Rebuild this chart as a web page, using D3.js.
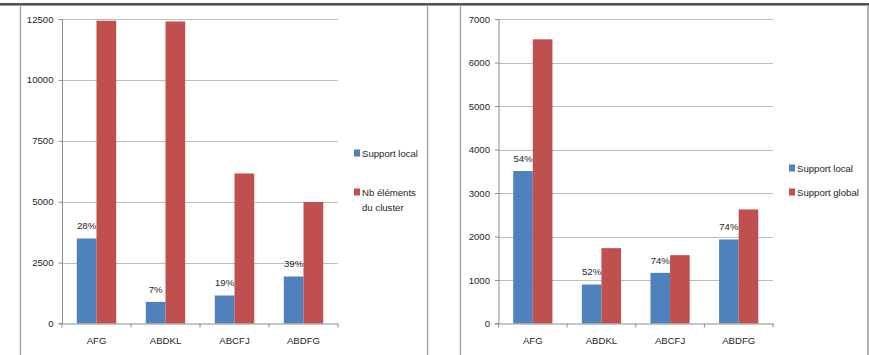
<!DOCTYPE html>
<html>
<head>
<meta charset="utf-8">
<script src="https://cdn.jsdelivr.net/npm/d3@7/dist/d3.min.js"></script>
<style>
  html, body { margin: 0; padding: 0; background: #fff; }
  svg { display: block; }
  text { font-family: "Liberation Sans", Arial, sans-serif; fill: #262626; }
</style>
</head>
<body>
<svg id="chart" width="869" height="355"></svg>
<script>
// Clusters shown on both charts
const categories = ["AFG", "ABDKL", "ABCFJ", "ABDFG"];

// Left chart: local support vs. number of elements in the cluster
const leftLocal = [3490, 887, 1150, 1930];
const leftClusterSize = [12430, 12400, 6160, 4990];
const leftPct = ["28%", "7%", "19%", "39%"];
const leftTicks = [0, 2500, 5000, 7500, 10000, 12500];
const leftLegend = [["Support local"], ["Nb éléments", "du cluster"]];

// Right chart: local support vs. global support
const rightLocal = [3505, 897, 1164, 1932];
const rightGlobal = [6533, 1732, 1571, 2622];
const rightPct = ["54%", "52%", "74%", "74%"];
const rightTicks = [0, 1000, 2000, 3000, 4000, 5000, 6000, 7000];
const rightLegend = [["Support local"], ["Support global"]];

const colors = ["#4F81BD", "#C0504D"];
const FS = 9.6;

const svg = d3.select("#chart");

// Frame: dark rule across the top, panel borders
const frame = svg.append("g");
frame.append("rect").attr("x", 0).attr("y", 3).attr("width", 869).attr("height", 2).attr("fill", "#505050");
frame.append("rect").attr("x", 0).attr("y", 5).attr("width", 869).attr("height", 1).attr("fill", "#9a9a9a");
[[20.5, "#a0a0a0"], [427.5, "#a0a0a0"], [460.5, "#a0a0a0"], [868, "#b0b0b0"]].forEach(([x, c]) => {
  frame.append("line").attr("x1", x).attr("x2", x).attr("y1", 6).attr("y2", 355)
    .attr("stroke", c).attr("stroke-width", x === 868 ? 2 : 1.3);
});

function drawChart(cfg) {
  const g = svg.append("g");
  const y = d3.scaleLinear().domain([0, cfg.max]).range([323.5, 19]);
  const x = d3.scaleBand().domain(categories).range([cfg.x0, cfg.x1]).padding(0);
  const barW = x.step() / 3.5;

  // horizontal gridlines
  g.append("g").selectAll("line").data(cfg.ticks.filter(t => t > 0)).join("line")
    .attr("x1", cfg.x0).attr("x2", cfg.x1)
    .attr("y1", d => Math.round(y(d)) + 0.5).attr("y2", d => Math.round(y(d)) + 0.5)
    .attr("stroke", "#bdbdbd").attr("stroke-width", 1);

  // value axis
  const yAxis = d3.axisLeft(y).tickValues(cfg.ticks).tickSize(4).tickPadding(5).tickFormat(d3.format("d"));
  const ya = g.append("g").attr("transform", `translate(${cfg.x0 + 0.5},0)`).call(yAxis);
  ya.select(".domain").attr("stroke", "#8c8c8c").attr("d", `M-4,${y(0)}H0V${y(cfg.max)}`);
  ya.selectAll(".tick line").attr("stroke", "#8c8c8c");
  ya.selectAll(".tick text").attr("font-size", FS).attr("font-family", null).style("fill", "#262626");

  // bars
  const series = [cfg.a, cfg.b];
  series.forEach((vals, si) => {
    g.append("g").selectAll("rect").data(categories).join("rect")
      .attr("x", (c) => x(c) + x.step() / 2 - barW + si * barW)
      .attr("y", (c, i) => y(vals[i]))
      .attr("width", barW)
      .attr("height", (c, i) => y(0) - y(vals[i]))
      .attr("fill", colors[si]);
  });

  // category axis
  const xAxis = d3.axisBottom(x).tickSize(0).tickPadding(14);
  const xa = g.append("g").attr("transform", `translate(0,${y(0)})`).call(xAxis);
  xa.select(".domain").attr("stroke", "#8c8c8c");
  xa.selectAll(".tick text").attr("font-size", FS).attr("font-family", null).style("fill", "#262626");
  // boundary tick marks between categories
  g.append("g").selectAll("line").data(d3.range(categories.length + 1)).join("line")
    .attr("x1", i => cfg.x0 + i * x.step()).attr("x2", i => cfg.x0 + i * x.step())
    .attr("y1", y(0)).attr("y2", y(0) + 4)
    .attr("stroke", "#8c8c8c");

  // percentage labels over the first series
  g.append("g").selectAll("text").data(categories).join("text")
    .attr("x", c => x(c) + x.step() / 2 - barW / 2)
    .attr("y", (c, i) => y(cfg.a[i]) - 9)
    .attr("text-anchor", "middle").attr("font-size", FS)
    .text((c, i) => cfg.pct[i]);

  // legend
  cfg.legend.forEach((lines, i) => {
    const ly = cfg.legendY[i];
    g.append("rect").attr("x", cfg.legendX).attr("y", ly - 3.5).attr("width", 6).attr("height", 7).attr("fill", colors[i]);
    lines.forEach((t, k) => {
      g.append("text").attr("x", cfg.legendX + 8).attr("y", ly + 3.5 + k * 15)
        .attr("font-size", FS).text(t);
    });
  });
}

drawChart({ x0: 62, x1: 338, max: 12500, ticks: leftTicks, a: leftLocal, b: leftClusterSize,
  pct: leftPct, legend: leftLegend, legendX: 354, legendY: [153, 192] });
drawChart({ x0: 498.5, x1: 773, max: 7000, ticks: rightTicks, a: rightLocal, b: rightGlobal,
  pct: rightPct, legend: rightLegend, legendX: 789, legendY: [168, 192] });
</script>
</body>
</html>
